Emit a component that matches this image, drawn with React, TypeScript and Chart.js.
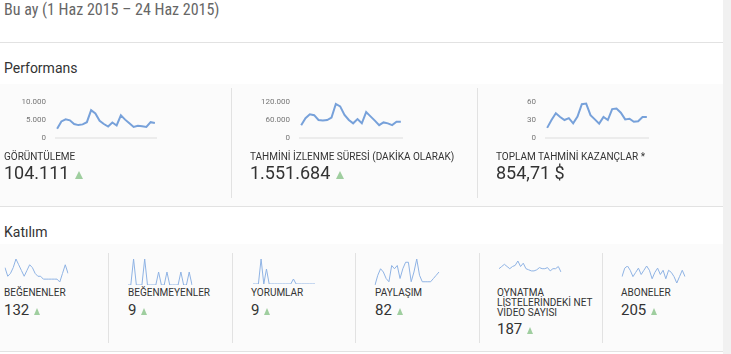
import React, { useEffect, useRef } from 'react';
import { Chart, registerables } from 'chart.js';
Chart.register(...registerables);

const dayLabels = ['1 Haz','2 Haz','3 Haz','4 Haz','5 Haz','6 Haz','7 Haz','8 Haz','9 Haz','10 Haz','11 Haz','12 Haz','13 Haz','14 Haz','15 Haz','16 Haz','17 Haz','18 Haz','19 Haz','20 Haz','21 Haz','22 Haz','23 Haz','24 Haz'];

const viewsData = [2600,4600,5200,4900,3900,3600,3800,4400,7700,6800,4800,3900,3200,4300,3500,6300,5100,4100,3100,3400,3300,3100,4400,4200];
const watchData = [43000,66000,79000,76000,60000,58000,60000,68000,113000,105000,77000,60000,49000,63000,49000,86000,72000,58000,43000,52000,49000,43000,54000,54000];
const earnData = [17,30,41,35,30,33,24.5,35.5,56,57,38,31,24,35,30,48,49,42,31,32,27,28,35,35];

const likesData = [7,4,5,7,10,8,6,4,6,8,7,5,4,4,3,3,3,3,3,3,2,5,8,5];
const dislikesData = [0,0,2,0,0,0,2,0,0,0,0,1,0,0,1,0,0,0,0,1,0,0,1,0];
const commentsData = [0,0,0,5,0,3,0,0,0,0,0,0,0,0,0,1,0,0,0,0,0,0,0,0];
const sharesData = [0,3,5,4,2,1,6,5,6,2,5,7,7,1,4,8,3,1,1,1,1,2,3,4];
const playlistData = [7,9,11,9,7,9,10,14,9,12,7,6,5,5,6,8,7,7,8,5,7,7,9,4];
const subsData = [7,11,12,10,7,9,11,8,10,12,10,6,9,11,8,10,6,10,9,7,4,7,10,7];

const viewsTicks = { max: 10000, step: 5000 };
const watchTicks = { max: 120000, step: 60000 };
const earnTicks = { max: 60, step: 30 };

const FONT = 'Roboto, "Noto Sans", Arial, sans-serif';
const fmt = (v: number | string) => String(v).replace(/\B(?=(\d{3})+(?!\d))/g, '.');

function PerfChart({ left, top, width, height, data, max, step }: any) {
  const ref = useRef<HTMLCanvasElement>(null);
  useEffect(() => {
    const c = new Chart(ref.current!, {
      type: 'line',
      data: { labels: dayLabels, datasets: [{ data, borderColor: '#77a1da', borderWidth: 2, pointRadius: 0, tension: 0, fill: false }] },
      options: {
        animation: false, responsive: false, maintainAspectRatio: false, events: [],
        layout: { padding: 0 },
        plugins: { legend: { display: false }, tooltip: { enabled: false } },
        scales: {
          x: { display: false, offset: true },
          y: {
            min: 0, max,
            ticks: { stepSize: step, padding: 9, color: '#777', font: { family: 'Roboto', size: 8 }, callback: (v: any) => fmt(v) },
            border: { display: false },
            grid: { drawTicks: false, lineWidth: 2, color: (ctx: any) => (ctx.tick && ctx.tick.value === 0 ? '#ececec' : 'rgba(0,0,0,0)') },
            afterFit: (s: any) => { s.width = 40; },
          },
        },
      },
    } as any);
    return () => c.destroy();
  }, []);
  return <canvas ref={ref} width={width} height={height} style={{ position: 'absolute', left, top, width, height, display: 'block' }} />;
}

function Spark({ left, top, width, height, data }: any) {
  const ref = useRef<HTMLCanvasElement>(null);
  useEffect(() => {
    const c = new Chart(ref.current!, {
      type: 'line',
      data: { labels: dayLabels, datasets: [{ data, borderColor: '#8fb3e4', borderWidth: 1, pointRadius: 0, tension: 0, fill: false }] },
      options: {
        animation: false, responsive: false, maintainAspectRatio: false, events: [],
        layout: { padding: 1 },
        plugins: { legend: { display: false }, tooltip: { enabled: false } },
        scales: {
          x: { display: false },
          y: { display: false, min: Math.min(...data), max: Math.max(...data) },
        },
      },
    } as any);
    return () => c.destroy();
  }, []);
  return <canvas ref={ref} width={width} height={height} style={{ position: 'absolute', left, top, width, height, display: 'block' }} />;
}

function Tri({ size }: { size: number }) {
  return (
    <span style={{ display: 'inline-block', width: 0, height: 0, borderLeft: `${size / 2}px solid transparent`, borderRight: `${size / 2}px solid transparent`, borderBottom: `${size}px solid #9fce9f`, marginLeft: size < 8 ? 5 : 6 }} />
  );
}

const abs = (left: number, top: number, extra: any = {}) => ({ position: 'absolute' as const, left, top, ...extra });
const label = (left: number, top: number, text: any, extra: any = {}) => (
  <div style={abs(left, top, { fontFamily: FONT, fontSize: 10, lineHeight: '12px', color: '#333', whiteSpace: 'nowrap', ...extra })}>{text}</div>
);
const bigVal = (left: number, top: number, text: string, tri = true) => (
  <div style={abs(left, top, { fontFamily: FONT, fontSize: 18, lineHeight: '20px', color: '#333', whiteSpace: 'nowrap' })}>{text}{tri ? <Tri size={8} /> : null}</div>
);
const smallVal = (left: number, top: number, text: string) => (
  <div style={abs(left, top, { fontFamily: FONT, fontSize: 15, lineHeight: '18px', color: '#333', whiteSpace: 'nowrap' })}>{text}<Tri size={7} /></div>
);
const hline = (top: number) => <div style={abs(0, top, { width: 723, height: 1, background: '#e2e2e2' })} />;
const vline = (left: number, top: number, h: number) => <div style={abs(left, top, { width: 1, height: h, background: '#e2e2e2' })} />;

export default function App() {
  useEffect(() => { document.body.style.margin = '0'; }, []);
  return (
    <div style={{ position: 'relative', width: 731, height: 354, background: '#fff', overflow: 'hidden' }}>
      <div style={abs(723, 0, { width: 8, height: 354, background: '#f1f1f1' })} />
      <div style={abs(0, 84, { width: 723, height: 122, background: '#fbfbfb' })} />
      <div style={abs(0, 244, { width: 723, height: 107, background: '#fbfbfb' })} />

      <div style={abs(4, 0, { fontFamily: '"Liberation Sans Narrow", "Roboto Condensed", Roboto, sans-serif', fontSize: 16, lineHeight: '20px', color: '#666', whiteSpace: 'nowrap' })}>Bu ay (1 Haz 2015 – 24 Haz 2015)</div>
      {hline(42)}

      <div style={abs(4, 60, { fontFamily: FONT, fontSize: 14, lineHeight: '16px', color: '#333' })}>Performans</div>

      <PerfChart left={15} top={88} width={142} height={64} data={viewsData} max={viewsTicks.max} step={viewsTicks.step} />
      <PerfChart left={259} top={88} width={144} height={64} data={watchData} max={watchTicks.max} step={watchTicks.step} />
      <PerfChart left={505} top={88} width={144} height={64} data={earnData} max={earnTicks.max} step={earnTicks.step} />

      {label(4, 151, 'GÖRÜNTÜLEME')}
      {bigVal(4, 163, '104.111')}
      {label(250, 151, 'TAHMİNİ İZLENME SÜRESİ (DAKİKA OLARAK)')}
      {bigVal(250, 163, '1.551.684')}
      {label(496, 151, 'TOPLAM TAHMİNİ KAZANÇLAR *')}
      {bigVal(496, 163, '854,71 $', false)}

      {vline(231, 88, 110)}
      {vline(477, 88, 110)}
      {hline(206)}

      <div style={abs(4, 224, { fontFamily: FONT, fontSize: 14, lineHeight: '16px', color: '#333' })}>Katılım</div>

      <Spark left={4} top={258} width={65} height={25} data={likesData} />
      <Spark left={127} top={258} width={66} height={28} data={dislikesData} />
      <Spark left={252} top={258} width={64} height={27} data={commentsData} />
      <Spark left={374} top={258} width={66} height={28} data={sharesData} />
      <Spark left={498} top={260} width={64} height={13} data={playlistData} />
      <Spark left={621} top={265} width={65} height={19} data={subsData} />

      {label(4, 287, 'BEĞENENLER')}
      {smallVal(4, 301, '132')}
      {label(128, 287, 'BEĞENMEYENLER')}
      {smallVal(128, 301, '9')}
      {label(251, 287, 'YORUMLAR')}
      {smallVal(251, 301, '9')}
      {label(375, 287, 'PAYLAŞIM')}
      {smallVal(375, 301, '82')}
      {label(497, 288, <>OYNATMA<br />LİSTELERİNDEKİ NET<br />VİDEO SAYISI</>, { lineHeight: '10px' })}
      {smallVal(497, 320, '187')}
      {label(621, 287, 'ABONELER')}
      {smallVal(621, 301, '205')}

      {vline(108, 253, 90)}
      {vline(232, 253, 90)}
      {vline(355, 253, 90)}
      {vline(479, 253, 90)}
      {vline(602, 253, 90)}
      {hline(351)}
    </div>
  );
}
